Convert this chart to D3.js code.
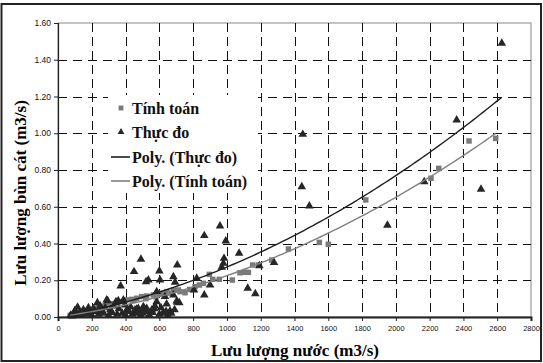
<!DOCTYPE html>
<html>
<head>
<meta charset="utf-8">
<script src="https://cdn.jsdelivr.net/npm/d3@7"></script>
<style>
  body { margin: 0; background: #fff; }
  svg { display: block; }
</style>
</head>
<body>
<svg id="chart"></svg>
<script>
// Thực đo (measured): [lưu lượng nước, lưu lượng bùn cát]
const thucDo = [
  [2627, 1.49], [2360, 1.072], [2168, 0.736], [2504, 0.695], [1449, 0.994], [1443, 0.709],
  [1488, 0.604], [1950, 0.499], [1192, 0.279], [1279, 0.296], [1168, 0.127], [1123, 0.156],
  [866, 0.443], [993, 0.414], [959, 0.495], [1072, 0.347], [706, 0.283], [983, 0.319],
  [979, 0.292], [969, 0.270], [821, 0.211], [683, 0.219], [693, 0.189], [805, 0.147],
  [866, 0.12], [900, 0.174], [683, 0.12], [703, 0.087], [718, 0.078], [663, 0.033],
  [491, 0.314], [450, 0.247], [600, 0.250], [535, 0.201], [521, 0.192], [604, 0.201],
  [371, 0.169], [584, 0.138], [633, 0.111], [643, 0.071], [706, 0.080], [584, 0.083],
  [574, 0.06], [505, 0.056], [525, 0.047], [475, 0.047], [288, 0.093], [233, 0.078],
  [357, 0.089], [116, 0.053], [456, 0.038], [407, 0.038], [555, 0.038], [397, 0.065],
  [343, 0.083], [387, 0.093], [466, 0.042], [511, 0.047], [294, 0.089],
  [75, 0.01], [85, 0.005], [95, 0.02], [100, 0.035], [110, 0.012], [130, 0.025],
  [140, 0.008], [150, 0.04], [160, 0.015], [170, 0.03], [180, 0.05], [190, 0.02],
  [200, 0.01], [210, 0.045], [220, 0.03], [240, 0.015], [250, 0.06], [260, 0.035],
  [270, 0.02], [280, 0.05], [300, 0.01], [310, 0.04], [320, 0.025], [330, 0.06],
  [350, 0.015], [360, 0.045], [380, 0.02], [400, 0.01], [420, 0.03], [430, 0.055],
  [440, 0.015], [460, 0.02], [480, 0.03], [490, 0.01], [500, 0.02], [520, 0.03],
  [540, 0.012], [560, 0.025], [570, 0.045], [600, 0.015], [610, 0.05], [620, 0.02],
  [640, 0.03], [650, 0.01], [670, 0.02], [690, 0.04]
];

// Tính toán (computed)
const tinhToan = [
  [2591, 0.972], [2433, 0.958], [2254, 0.809], [2208, 0.755], [1822, 0.637], [1364, 0.370],
  [1547, 0.406], [1600, 0.396], [1152, 0.283], [1265, 0.310], [1186, 0.283], [1077, 0.241],
  [1101, 0.243], [1127, 0.243], [1032, 0.201], [955, 0.205], [896, 0.232], [916, 0.205],
  [861, 0.183], [837, 0.174], [811, 0.165], [780, 0.15], [752, 0.132], [722, 0.138],
  [683, 0.147], [712, 0.147], [660, 0.13], [643, 0.138], [620, 0.125], [604, 0.129],
  [580, 0.11], [564, 0.12], [525, 0.114], [520, 0.1], [495, 0.111], [466, 0.102],
  [450, 0.09], [436, 0.096], [407, 0.093], [377, 0.083], [347, 0.078], [320, 0.072],
  [300, 0.068], [280, 0.062], [260, 0.058], [240, 0.052], [220, 0.048], [200, 0.044],
  [180, 0.04], [160, 0.034], [140, 0.03], [120, 0.025], [100, 0.02], [90, 0.016],
  [80, 0.012], [72, 0.008]
];

// polynomial trend lines (order 2): a + b*x + c*x^2
const polyThucDo = [-0.001, 1.607e-4, 1.123e-7];
const polyTinhToan = [0.0008, 1.228e-4, 1.013e-7];

const xTickValues = [0, 200, 400, 600, 800, 1000, 1200, 1400, 1600, 1800, 2000, 2200, 2400, 2600, 2800];
const yTickValues = [0, 0.2, 0.4, 0.6, 0.8, 1.0, 1.2, 1.4, 1.6];

const legendLabels = ["Tính toán", "Thực đo", "Poly. (Thực đo)", "Poly. (Tính toán)"];

const width = 543, height = 363;
const margin = { top: 23, right: 12, bottom: 46, left: 58 };

const svg = d3.select('#chart').attr('width', width).attr('height', height);

// outer frame
svg.append('rect')
  .attr('x', 1.5).attr('y', 4).attr('width', 539.5).attr('height', 357)
  .attr('fill', '#fff').attr('stroke', '#222').attr('stroke-width', 2);

const x = d3.scaleLinear().domain([0, 2800]).range([margin.left, width - margin.right]);
const y = d3.scaleLinear().domain([0, 1.6]).range([height - margin.bottom, margin.top]);

const plot = svg.append('g');

// plot border
plot.append('rect')
  .attr('x', x(0)).attr('y', y(1.6))
  .attr('width', x(2800) - x(0)).attr('height', y(0) - y(1.6))
  .attr('fill', 'none').attr('stroke', '#888').attr('stroke-width', 1);

// grid
plot.selectAll('.hgrid')
  .data(yTickValues.filter(d => d > 0 && d < 1.6))
  .enter().append('line')
  .attr('x1', x(0)).attr('x2', x(2800))
  .attr('y1', d => Math.round(y(d)) + 0.5).attr('y2', d => Math.round(y(d)) + 0.5)
  .attr('stroke', '#111').attr('stroke-dasharray', '9,6');

plot.selectAll('.vgrid')
  .data(xTickValues.filter(d => d > 0 && d < 2800))
  .enter().append('line')
  .attr('x1', d => Math.round(x(d)) + 0.5).attr('x2', d => Math.round(x(d)) + 0.5)
  .attr('y1', y(1.6)).attr('y2', y(0))
  .attr('stroke', '#111').attr('stroke-dasharray', '9,5');

// axes
const xAxis = d3.axisBottom(x).tickValues(xTickValues).tickSize(4).tickFormat(d3.format('d'));
const yAxis = d3.axisLeft(y).tickValues(yTickValues).tickSize(4).tickFormat(d3.format('.2f'));

const gx = svg.append('g').attr('transform', `translate(0,${y(0)})`).call(xAxis);
gx.select('.domain').attr('stroke', '#222').attr('stroke-width', 2);
gx.selectAll('.tick line').attr('stroke', '#222');
gx.selectAll('.tick text')
  .attr('font-family', 'Liberation Sans, Arial, sans-serif')
  .attr('font-size', 7.5).attr('fill', '#111').attr('dy', '0.95em');

const gy = svg.append('g').attr('transform', `translate(${x(0)},0)`).call(yAxis);
gy.select('.domain').attr('stroke', '#222').attr('stroke-width', 1.2);
gy.selectAll('.tick line').attr('stroke', '#222');
gy.selectAll('.tick text')
  .attr('font-family', 'Liberation Sans, Arial, sans-serif')
  .attr('font-size', 8.5).attr('fill', '#111').attr('x', -7);

// axis titles
svg.append('text')
  .attr('x', 295).attr('y', 356)
  .attr('text-anchor', 'middle')
  .attr('font-family', 'Liberation Serif, Times New Roman, serif')
  .attr('font-weight', 'bold').attr('font-size', 17)
  .text('Lưu lượng nước (m3/s)');

svg.append('text')
  .attr('transform', 'translate(26,193) rotate(-90)')
  .attr('text-anchor', 'middle')
  .attr('font-family', 'Liberation Serif, Times New Roman, serif')
  .attr('font-weight', 'bold').attr('font-size', 17)
  .text('Lưu lượng bùn cát (m3/s)');

// legend (white box, drawn under the points)
const legend = svg.append('g');
legend.append('rect')
  .attr('x', 108).attr('y', 95).attr('width', 150).attr('height', 98)
  .attr('fill', '#fff');

const legendY = [108, 132, 157, 181];
const legendColors = ['#7a7a7a', '#262626', '#1f1f1f', '#808080'];

legendLabels.forEach((lab, i) => {
  const ly = legendY[i];
  if (i === 0) {
    legend.append('path').attr('d', d3.symbol(d3.symbolSquare, 24)())
      .attr('transform', `translate(121,${ly})`).attr('fill', legendColors[i]);
  } else if (i === 1) {
    legend.append('path').attr('d', d3.symbol(d3.symbolTriangle, 20)())
      .attr('transform', `translate(121,${ly})`).attr('fill', legendColors[i]);
  } else {
    legend.append('line').attr('x1', 111).attr('x2', 130).attr('y1', ly).attr('y2', ly)
      .attr('stroke', legendColors[i]).attr('stroke-width', 1.6);
  }
  legend.append('text')
    .attr('x', 132).attr('y', ly).attr('dy', '0.35em')
    .attr('font-family', 'Liberation Serif, Times New Roman, serif')
    .attr('font-weight', 'bold').attr('font-size', 16).attr('fill', '#111')
    .text(lab);
});

// markers
plot.selectAll('.tt')
  .data(tinhToan)
  .enter().append('path')
  .attr('d', d3.symbol(d3.symbolSquare, 30)())
  .attr('transform', d => `translate(${x(d[0])},${y(d[1])})`)
  .attr('fill', '#7a7a7a');

plot.selectAll('.td')
  .data(thucDo)
  .enter().append('path')
  .attr('d', d3.symbol(d3.symbolTriangle, 32)())
  .attr('transform', d => `translate(${x(d[0])},${y(d[1])})`)
  .attr('fill', '#262626');

// trend lines over the range of each series
function trend(coef, data) {
  const ext = d3.extent(data, d => d[0]);
  const xs = d3.range(ext[0], ext[1], 20).concat([ext[1]]);
  return xs.map(v => [v, coef[0] + coef[1] * v + coef[2] * v * v]);
}
const line = d3.line().x(d => x(d[0])).y(d => y(d[1]));

plot.append('path')
  .attr('d', line(trend(polyThucDo, thucDo)))
  .attr('fill', 'none').attr('stroke', '#1f1f1f').attr('stroke-width', 1.4);

plot.append('path')
  .attr('d', line(trend(polyTinhToan, tinhToan)))
  .attr('fill', 'none').attr('stroke', '#808080').attr('stroke-width', 1.4);
</script>
</body>
</html>
